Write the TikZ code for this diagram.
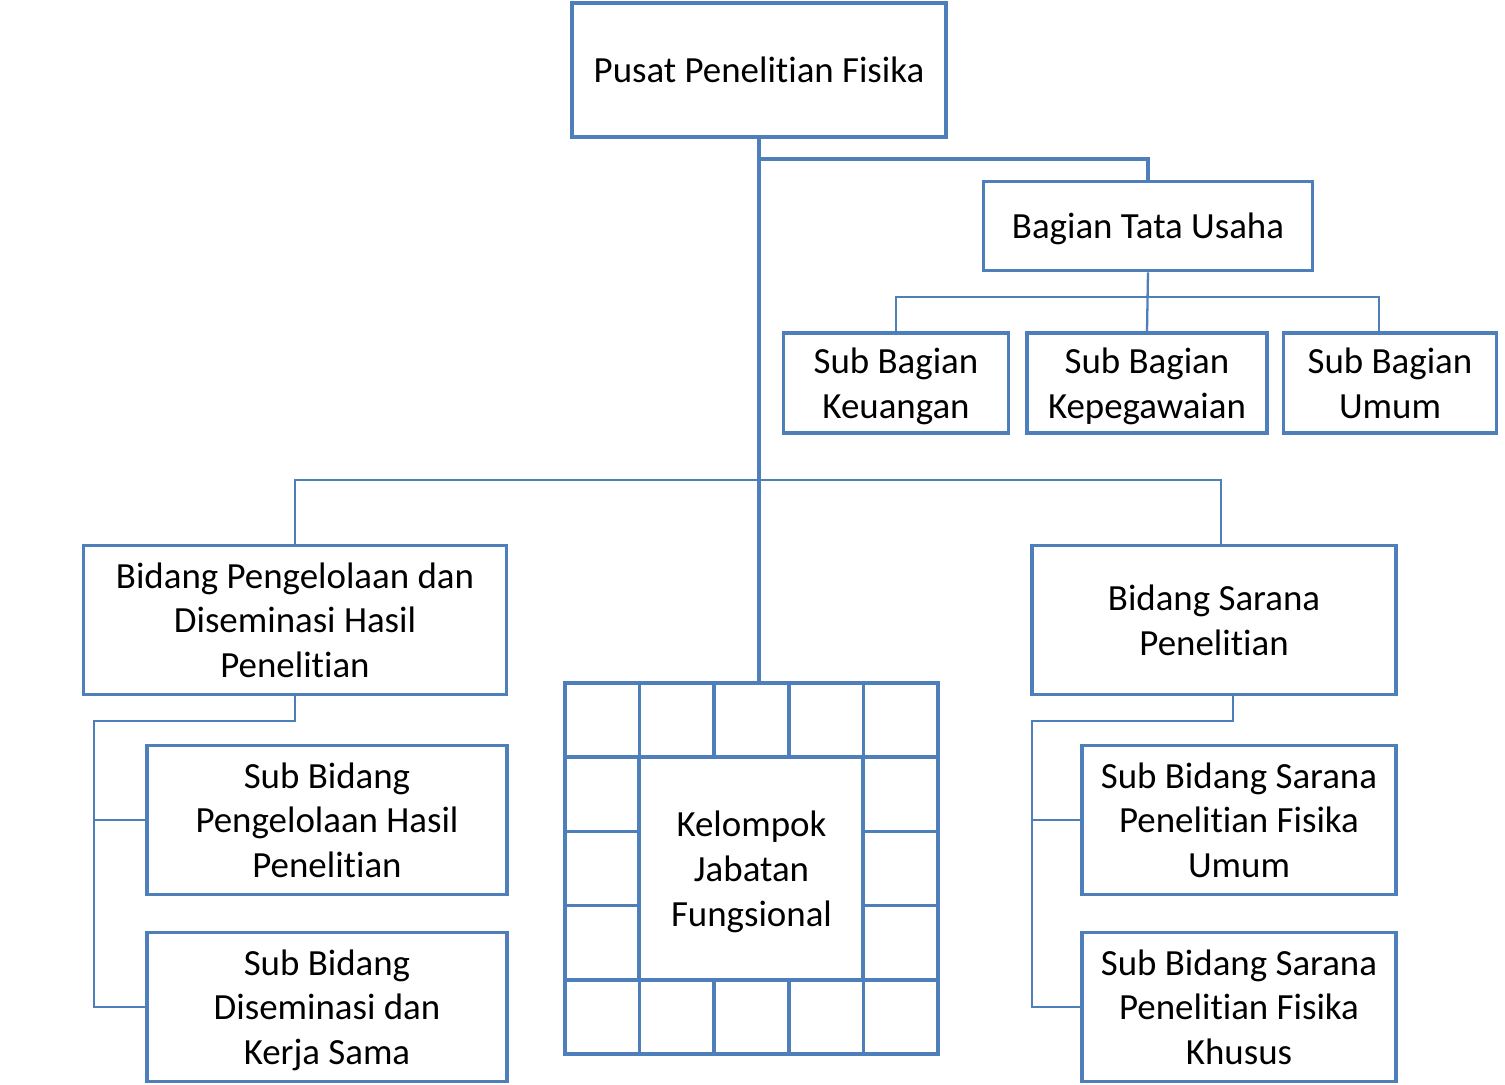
\documentclass[tikz,border=0pt]{standalone}
\usepackage{fontspec}
\setmainfont{Carlito}[Ligatures=NoCommon]
\definecolor{orgblue}{RGB}{79, 127, 187}
\usepackage{tikz}
\usetikzlibrary{positioning, calc}

\newdimen\px
\px=0.02cm

\tikzset{
  orgbox/.style={draw=orgblue, line width=2.1pt, fill=white, align=center, inner sep=0pt,
    font=\fontsize{21}{25.5}\selectfont, text depth=0pt},
  trunk/.style={draw=orgblue, line width=2.6pt},
  link/.style={draw=orgblue, line width=1.3pt},
  gridline/.style={draw=orgblue, line width=2.1pt}
}

\begin{document}
\begin{tikzpicture}[x=0.02cm, y=-0.02cm]
  \useasboundingbox (0,0) rectangle (1505,1085);

  % Pusat
  \node[orgbox, minimum width=374\px, minimum height=134\px] (pusat) at (759, 70) {Pusat Penelitian Fisika};

  % Bagian Tata Usaha
  \node[orgbox, minimum width=329\px, minimum height=89\px] (btu) at (1148, 226) {Bagian Tata Usaha};

  % Sub Bagian
  \node[orgbox, minimum width=225\px, minimum height=100\px] (sbk) at (896, 383) {Sub Bagian\\Keuangan};
  \node[orgbox, minimum width=240\px, minimum height=100\px] (sbp) at (1147, 383) {Sub Bagian\\Kepegawaian};
  \node[orgbox, minimum width=213\px, minimum height=100\px] (sbu) at (1390, 383) {Sub Bagian\\Umum};

  % Bidang Pengelolaan dan Diseminasi
  \node[orgbox, minimum width=423\px, minimum height=149\px] (bpd) at (295, 620) {Bidang Pengelolaan dan\\Diseminasi Hasil\\Penelitian};
  \node[orgbox, minimum width=360\px, minimum height=149\px] (sbph) at (327, 820) {Sub Bidang\\Pengelolaan Hasil\\Penelitian};
  \node[orgbox, minimum width=360\px, minimum height=149\px] (sbdk) at (327, 1007) {Sub Bidang\\Diseminasi dan\\Kerja Sama};

  % Bidang Sarana
  \node[orgbox, minimum width=364\px, minimum height=149\px] (bsp) at (1214, 620) {Bidang Sarana\\Penelitian};
  \node[orgbox, minimum width=314\px, minimum height=149\px] (sbsu) at (1239, 820) {Sub Bidang Sarana\\Penelitian Fisika\\Umum};
  \node[orgbox, minimum width=314\px, minimum height=149\px] (sbsk) at (1239, 1007) {Sub Bidang Sarana\\Penelitian Fisika\\Khusus};

  % Kelompok Jabatan Fungsional
  \node[orgbox, minimum width=373\px, minimum height=371\px] (kjf) at (751.5, 868.5) {Kelompok\\Jabatan\\Fungsional};
  \draw[gridline] (639, 757) rectangle (863, 980);
  \foreach \i in {1,...,4} {
    \draw[gridline] (565+74.6*\i, 683) -- (565+74.6*\i, 757);
    \draw[gridline] (565+74.6*\i, 980) -- (565+74.6*\i, 1054);
    \draw[gridline] (565, 683+74.2*\i) -- (639, 683+74.2*\i);
    \draw[gridline] (863, 683+74.2*\i) -- (938, 683+74.2*\i);
  }

  % connectors
  \draw[trunk] (pusat.south) -- (pusat.south |- kjf.north);
  \draw[trunk] ($(pusat.south)+(0,20)$) -| (btu.north);
  \draw[link] (sbk.north) |- ($(btu.south)+(0,25)$) -| ($(sbu.north)+(-11,0)$);
  \draw[link] (btu.south) -- (sbp.north);
  \draw[link] (bpd.north) -- ++(0,-64) -| ($(bsp.north)+(7,0)$);

  \coordinate (lspine) at ($(sbdk.west)+(-51,0)$);
  \draw[link] (bpd.south) -- ++(0,25) -| (lspine) -- (sbdk.west);
  \draw[link] (lspine |- sbph.west) -- (sbph.west);

  \coordinate (rspine) at ($(sbsk.west)+(-48,0)$);
  \draw[link] ($(bsp.south)+(19,0)$) -- ++(0,25) -| (rspine) -- (sbsk.west);
  \draw[link] (rspine |- sbsu.west) -- (sbsu.west);
\end{tikzpicture}
\end{document}
